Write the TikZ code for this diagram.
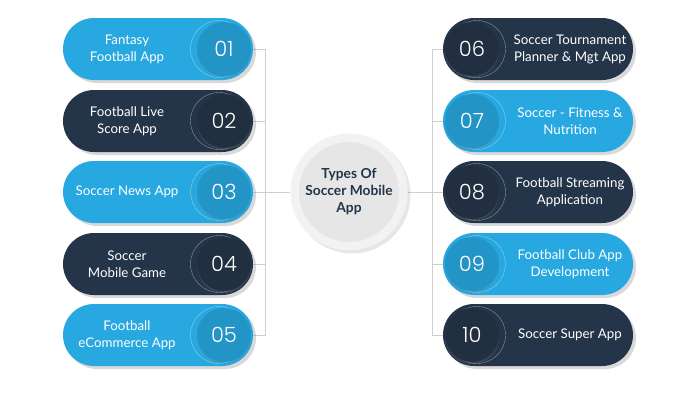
\documentclass[tikz,border=0pt]{standalone}
\usepackage{fontspec}
\setmainfont{Lato}
\newfontfamily\numfont{Poppins Light}
\usetikzlibrary{shadows,backgrounds}
\definecolor{appblue}{HTML}{27A8E0}
\definecolor{appnavy}{HTML}{253549}
\definecolor{appline}{HTML}{CFCFCF}
\definecolor{apphub}{HTML}{F2F2F2}
\definecolor{apphubin}{HTML}{E6E6E7}
\tikzset{
  pill/.style={rounded corners=31pt,minimum width=190pt,minimum height=62pt,inner sep=0pt,
    drop shadow={opacity=0.3,shadow xshift=3pt,shadow yshift=-3pt}},
  disc/.style={circle,minimum size=54pt,inner sep=0pt,text=white,font=\numfont\fontsize{21}{21}\selectfont,
    drop shadow={opacity=0.25,shadow xshift=0pt,shadow yshift=-2pt}},
  ring/.style={circle,draw=white,draw opacity=0.45,line width=0.4pt,minimum size=57pt,inner sep=0pt},
  lbl/.style={text=white,align=center,font=\fontsize{13.3}{17}\selectfont},
  link/.style={draw=appline,line width=0.8pt},
}
\begin{document}
\begin{tikzpicture}[x=1pt,y=-1pt]
\useasboundingbox (0,0) rectangle (700,400);
% hub
\node[circle,fill=apphub,minimum size=117pt,inner sep=0pt,
  drop shadow={opacity=0.2,shadow xshift=3pt,shadow yshift=-3pt}] (hub) at (349,192) {};
\node[circle,fill=apphubin,minimum size=100pt,inner sep=0pt,text=appnavy,align=center,
  font=\bfseries\fontsize{13.8}{17}\selectfont] (hubin) at (hub) {Types Of\\Soccer Mobile\\App};
% left column
\foreach \i/\y/\c/\txt in {1/49/appblue/{Fantasy\\Football App},2/121/appnavy/{Football Live\\Score App},
  3/192/appblue/{Soccer News App},4/264/appnavy/{Soccer\\Mobile Game},5/335/appblue/{Football\\eCommerce App}} {
  \node[pill,fill=\c] (p\i) at (158,\y) {};
  \node[ring] (r\i) at (219,\y) {};
  \node[disc,fill=\c!88!black] (n\i) at (224,\y) {0\i};
  \node[lbl] (t\i) at (127,\y) {\txt};
}
% right column
\foreach \i/\y/\c/\num/\txt in {6/49/appnavy/06/{Soccer Tournament\\Planner \& Mgt App},7/121/appblue/07/{Soccer - Fitness \&\\Nutrition},
  8/192/appnavy/08/{Football Streaming\\Application},9/264/appblue/09/{Football Club App\\Development},10/335/appnavy/10/{Soccer Super App}} {
  \node[pill,fill=\c] (p\i) at (538,\y) {};
  \node[ring] (r\i) at (477,\y) {};
  \node[disc,fill=\c!88!black] (n\i) at (472,\y) {\num};
  \node[lbl] (t\i) at (570,\y) {\txt};
}
% connectors
\coordinate (lbus) at (265,192);
\coordinate (rbus) at (432,192);
\begin{scope}[on background layer]
  \foreach \i in {1,...,5} \draw[link] (p\i.east) -| (lbus);
  \foreach \i in {6,...,10} \draw[link] (p\i.west) -| (rbus);
  \draw[link] (lbus) -- (hub);
  \draw[link] (rbus) -- (hub);
\end{scope}
\end{tikzpicture}
\end{document}
